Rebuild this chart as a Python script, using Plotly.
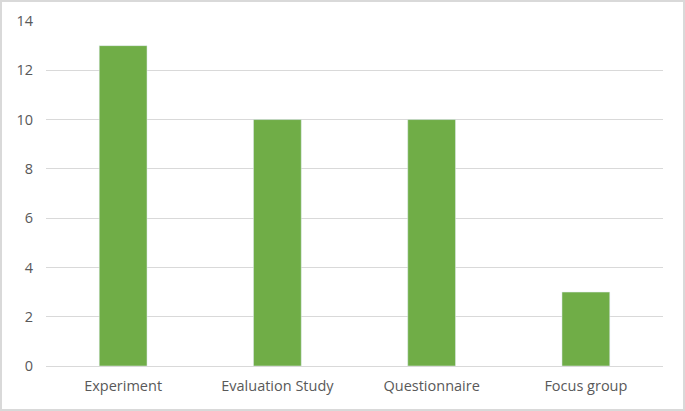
import plotly.graph_objects as go

# study types and how many papers used each
methods = ["Experiment", "Evaluation Study", "Questionnaire", "Focus group"]
counts = [13, 10, 10, 3]
y_ticks = [0, 2, 4, 6, 8, 10, 12, 14]

bar_green = "#70AD47"
grey_text = "#595959"

W, H = 685, 411
ml, mr, mt, mb = 46, 22, 21, 45
pw = W - ml - mr
ph = H - mt - mb

fig = go.Figure(go.Bar(x=methods, y=counts, marker_color=bar_green, width=0.31))

fig.update_layout(
    width=W, height=H,
    margin=dict(l=ml, r=mr, t=mt, b=mb),
    plot_bgcolor="white", paper_bgcolor="white",
    font=dict(family="Open Sans, Liberation Sans, sans-serif", size=14.5, color=grey_text),
    showlegend=False,
)
fig.update_yaxes(range=[0, 14], tickvals=y_ticks, showgrid=True, gridcolor="#D9D9D9",
                 gridwidth=1, zeroline=False, showline=False, ticks="", ticklen=0,
                 ticklabelstandoff=12)
fig.update_xaxes(showline=True, linecolor="#D9D9D9", linewidth=1, ticks="",
                 ticklabelstandoff=7)

# outer chart border like an Excel chart frame
fig.add_shape(type="rect", xref="paper", yref="paper",
              xsizemode="pixel", ysizemode="pixel", xanchor=0, yanchor=0,
              x0=-ml + 1, x1=pw + mr - 1, y0=-mb + 1, y1=ph + mt - 1,
              line=dict(color="#D9D9D9", width=2))

# page body margin would push the chart off the window edge
fig.write_html("out.html", config={"displayModeBar": False},
               post_script="document.body.style.margin='0';")
